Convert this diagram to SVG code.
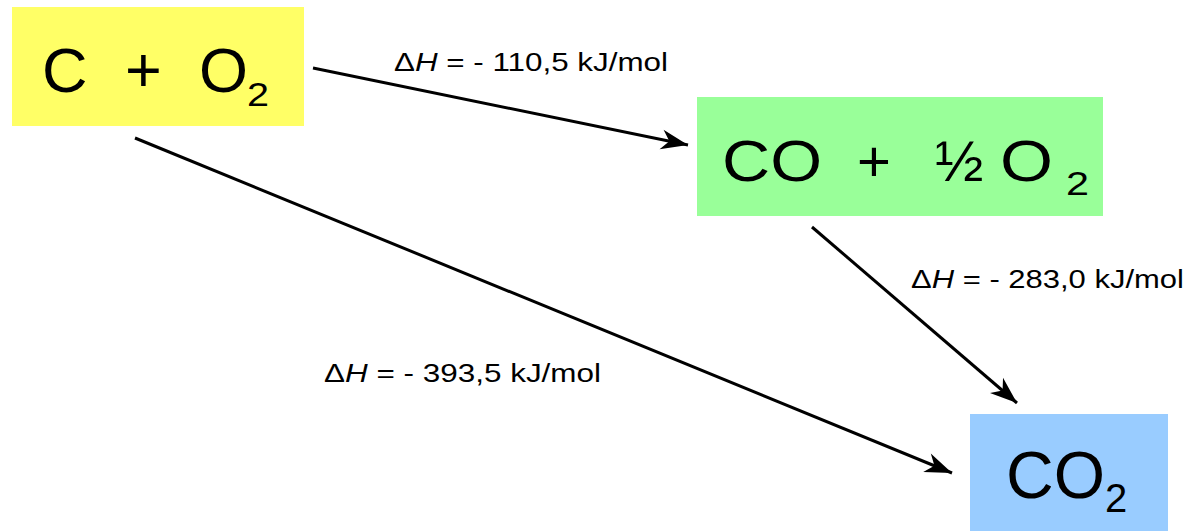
<svg xmlns="http://www.w3.org/2000/svg" width="1188" height="531" viewBox="0 0 1188 531">
  <defs>
    <style>
      .chem { font-family: "Liberation Sans", Arial, sans-serif; fill: #000; }
      .lbl { font-family: "Liberation Sans", Arial, sans-serif; font-size: 25px; fill: #000; }
      .arrow { stroke: #000; stroke-width: 3; fill: none; marker-end: url(#head); }
    </style>
    <marker id="head" markerUnits="userSpaceOnUse" markerWidth="40" markerHeight="30" viewBox="-30 -15 32 30" refX="0" refY="0" orient="auto">
      <path d="M0,0 L-27,-10 L-19,0 L-27,10 Z" fill="#000"/>
    </marker>
  </defs>
  <rect width="1188" height="531" fill="#fff"/>

  <!-- reactants -->
  <g id="node-c-o2">
    <rect x="12" y="7" width="292" height="119" fill="#ffff66"/>
    <text class="chem" font-size="63" y="92"><tspan x="42">C</tspan><tspan x="125">+</tspan><tspan x="199">O</tspan></text>
    <text class="chem" font-size="34" x="247" y="106" textLength="22" lengthAdjust="spacingAndGlyphs">2</text>
  </g>

  <!-- intermediate -->
  <g id="node-co-half-o2">
    <rect x="697" y="97" width="406" height="119" fill="#99ff99"/>
    <text class="chem" font-size="58" x="722" y="181" textLength="100" lengthAdjust="spacingAndGlyphs">CO</text>
    <text class="chem" font-size="58" x="857" y="181">+</text>
    <text class="chem" font-size="58" x="935" y="181">½</text>
    <text class="chem" font-size="58" x="1000" y="181" textLength="53" lengthAdjust="spacingAndGlyphs">O</text>
    <text class="chem" font-size="33" x="1066" y="195" textLength="23" lengthAdjust="spacingAndGlyphs">2</text>
  </g>

  <!-- product -->
  <g id="node-co2">
    <rect x="970" y="414" width="198" height="117" fill="#99ccff"/>
    <text class="chem" font-size="66" x="1006" y="498">CO</text>
    <text class="chem" font-size="40" x="1105" y="512">2</text>
  </g>

  <!-- reaction paths -->
  <g id="connectors">
    <line class="arrow" x1="313" y1="68" x2="688" y2="145"/>
    <line class="arrow" x1="812" y1="227" x2="1017" y2="403"/>
    <line class="arrow" x1="135" y1="138" x2="952" y2="473"/>
  </g>

  <!-- enthalpy labels -->
  <g id="labels">
    <text class="lbl" x="394" y="71" textLength="274" lengthAdjust="spacingAndGlyphs">Δ<tspan font-style="italic">H</tspan> = - 110,5 kJ/mol</text>
    <text class="lbl" x="911" y="288" textLength="273" lengthAdjust="spacingAndGlyphs">Δ<tspan font-style="italic">H</tspan> = - 283,0 kJ/mol</text>
    <text class="lbl" x="324" y="382" textLength="277" lengthAdjust="spacingAndGlyphs">Δ<tspan font-style="italic">H</tspan> = - 393,5 kJ/mol</text>
  </g>
</svg>
